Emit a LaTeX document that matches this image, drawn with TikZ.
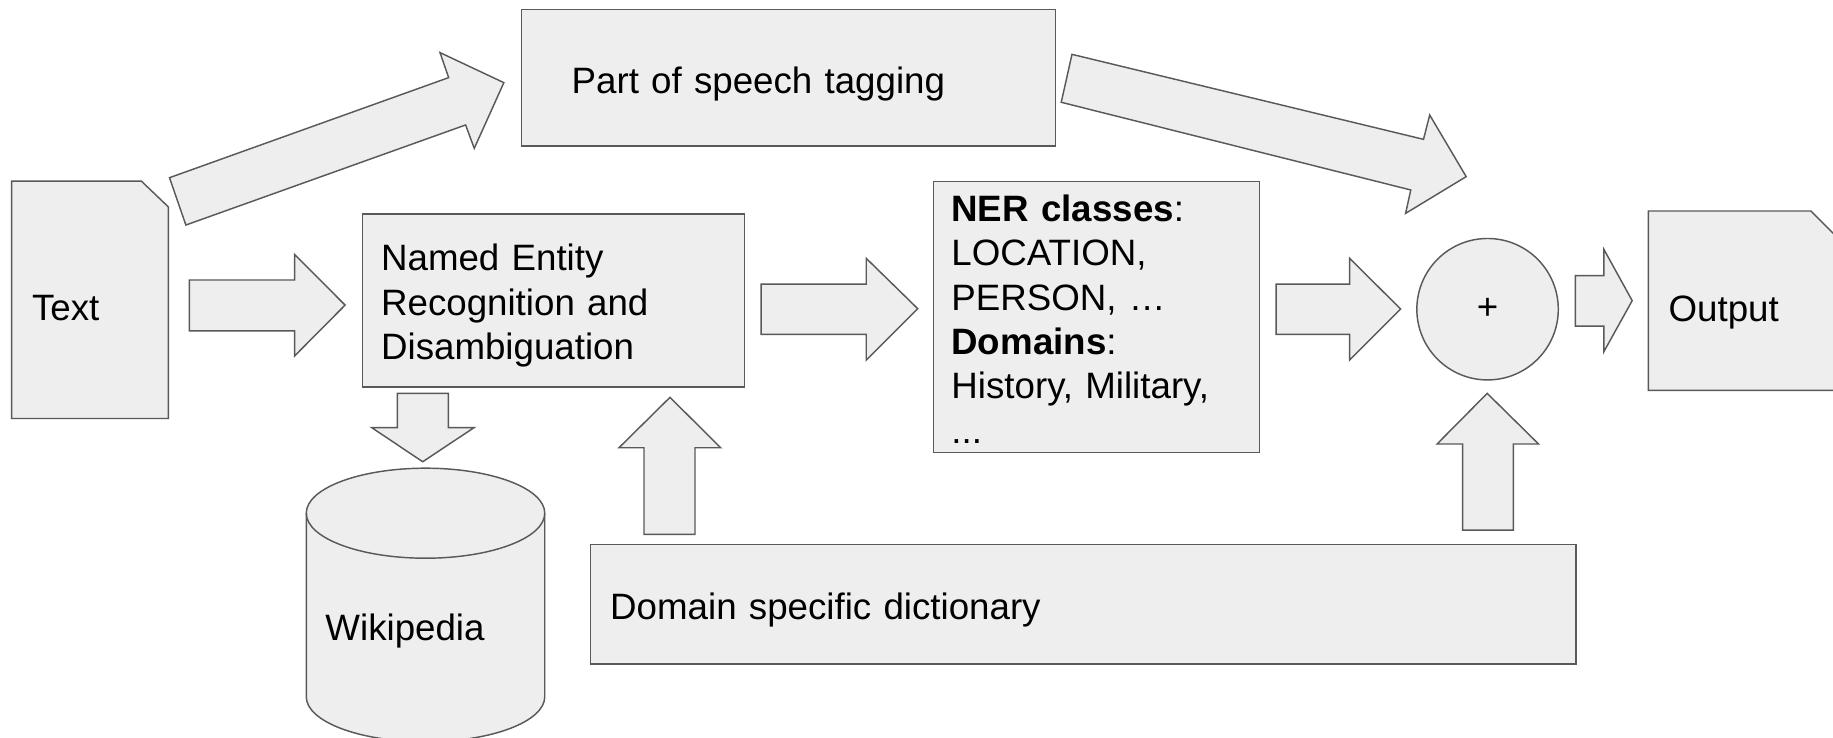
\documentclass[tikz,border=0pt]{standalone}
\usepackage{fontspec}
\setmainfont{Liberation Sans}
\definecolor{boxfill}{HTML}{EEEEEE}
\definecolor{boxline}{HTML}{595959}
\newcommand\toppad[1]{\rule{0pt}{#1}}
\tikzset{
  shapestyle/.style={fill=boxfill, draw=boxline, line width=0.62pt, line join=miter},
  txt/.style={font=\fontsize{15.7}{19}\selectfont, text=black},
  boxnode/.style={shapestyle, txt, rectangle, align=left, anchor=center, inner ysep=0pt},
  lbl/.style={txt, inner sep=0pt},
}
\begin{document}
\begin{tikzpicture}[x=0.5pt, y=-0.5pt]
\useasboundingbox (0,0) rectangle (1568,631);
\clip (0,0) rectangle (1568,631);
\fill[white] (0,0) rectangle (1568,631);

% ---- rectangular boxes
\node[boxnode, minimum width=228.5pt, minimum height=58.5pt, text width=185.5pt, inner xsep=21.5pt]
  (pos) at (674.5,66.5) {\toppad{16.5pt}Part of speech tagging};
\node[boxnode, minimum width=163.5pt, minimum height=74pt, text width=147.5pt, inner xsep=8pt]
  (ned) at (473.5,257) {\toppad{16pt}Named Entity\\Recognition and\\Disambiguation};
\node[boxnode, minimum width=139.4pt, minimum height=115.8pt, text width=124.2pt, inner xsep=7.6pt]
  (cls) at (938.1,271.2) {\toppad{13.1pt}\textbf{NER classes}:\\LOCATION,\\PERSON, …\\\textbf{Domains}:\\History, Military,\\...};
\node[boxnode, minimum width=421.5pt, minimum height=51pt, text width=404.5pt, inner xsep=8.5pt]
  (dict) at (926.5,517) {\toppad{16.5pt}Domain specific dictionary};
\node[shapestyle, txt, circle, minimum size=60.5pt, inner sep=0pt]
  (plus) at (1272.5,264.5) {+};

% ---- documents
\path[shapestyle] (10,155) -- (121,155) -- (144,177) -- (144,358) -- (10,358) -- cycle;
\node[lbl, anchor=base west] (text) at (27,274) {Text};
\path[shapestyle] (1410,180.5) -- (1549,180.5) -- (1600,231.5) -- (1600,334) -- (1410,334) -- cycle;
\node[lbl, anchor=base west] (out) at (1427,275) {Output};

% ---- cylinder
\path[shapestyle] (262,439) -- (262,596) arc (180:360:51pt and 19.25pt) -- (466,439) arc (0:180:51pt and 19.25pt) -- cycle;
\draw[boxline, line width=0.62pt] (262,439) arc (180:360:51pt and 19.25pt);
\node[lbl, anchor=base west] (wiki) at (278,547.5) {Wikipedia};

% ---- block arrows
% text -> part of speech
\path[shapestyle] (145,152) -- (383.8,66.4) -- (376.4,45) -- (431,70.7) -- (405.7,126.9) -- (398.3,106.9) -- (159,192.5) -- cycle;
% part of speech -> plus
\path[shapestyle] (917,46.5) -- (1217.7,119.2) -- (1223,98.4) -- (1254.2,151.1) -- (1202.4,182.5) -- (1206.8,162.5) -- (907.8,87.5) -- cycle;
% text -> NED
\path[shapestyle] (162,239.5) -- (252,239.5) -- (252,217.6) -- (295.2,261) -- (252,304.5) -- (252,283) -- (162,283) -- cycle;
% NED -> classes
\path[shapestyle] (651,243) -- (741,243) -- (741,221) -- (785,264) -- (741,308) -- (741,286) -- (651,286) -- cycle;
% classes -> plus
\path[shapestyle] (1091.6,243) -- (1154.5,243) -- (1154.5,221) -- (1198.1,264.3) -- (1154.5,308) -- (1154.5,286) -- (1091.6,286) -- cycle;
% plus -> output
\path[shapestyle] (1347.6,235.8) -- (1372,235.8) -- (1372,213.3) -- (1396.2,257.2) -- (1372,300.8) -- (1372,278.9) -- (1347.6,278.9) -- cycle;
% NED -> wikipedia
\path[shapestyle] (339.9,336.5) -- (383.5,336.5) -- (383.5,365.8) -- (405.5,365.8) -- (361.6,395) -- (318,365.8) -- (339.9,365.8) -- cycle;
% dictionary -> NED
\path[shapestyle] (550.9,457.1) -- (550.9,383) -- (529.5,383) -- (573.1,339.9) -- (616.5,383) -- (594.5,383) -- (594.5,457.1) -- cycle;
% dictionary -> plus
\path[shapestyle] (1251.2,453.4) -- (1251.2,379.8) -- (1229.3,379.8) -- (1272.2,336.5) -- (1316.1,379.8) -- (1294.5,379.8) -- (1294.5,453.4) -- cycle;
\end{tikzpicture}
\end{document}
